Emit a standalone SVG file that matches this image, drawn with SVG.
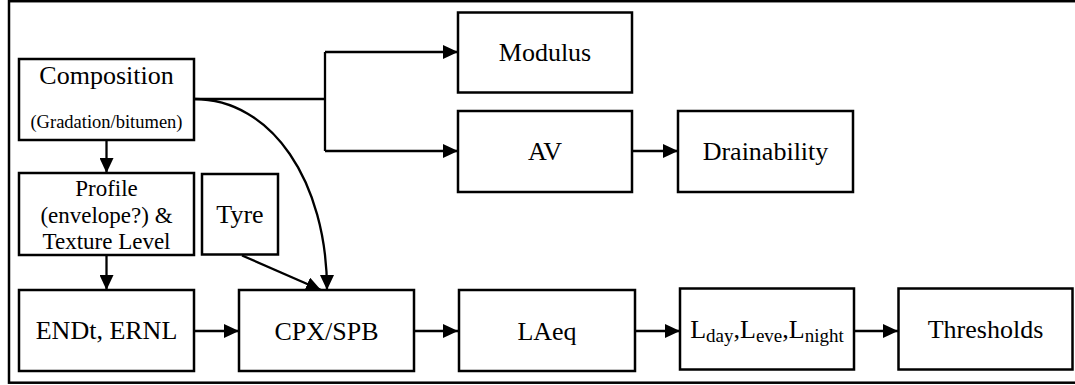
<svg xmlns="http://www.w3.org/2000/svg" width="1075" height="385" viewBox="0 0 1075 385" font-family="'Liberation Serif', 'DejaVu Serif', serif">
  <defs>
    <marker id="arr" markerUnits="userSpaceOnUse" markerWidth="16" markerHeight="14" refX="15" refY="7" orient="auto" viewBox="0 0 16 14">
      <path d="M0,0 L15,7 L0,14 z" fill="#000"/>
    </marker>
  </defs>
  <style>
    .box { fill: #fff; stroke: #000; stroke-width: 2.5; }
    .frame { fill: #fff; stroke: #000; stroke-width: 2.5; }
    .c { fill: none; stroke: #000; stroke-width: 2.3; }
    text { font-family: 'Liberation Serif', 'DejaVu Serif', serif; fill: #000; text-anchor: middle; }
    .big { font-size: 26px; }
    .mid { font-size: 23px; }
    .sm { font-size: 18.5px; }
    .sub { font-size: 19px; }
  </style>

  <rect class="frame" x="9" y="1.2" width="1070" height="381.5"/>

  <g id="connectors">
    <path class="c" d="M194,99 H325 M325,52 V151"/>
    <path class="c" d="M325,52 H458" marker-end="url(#arr)"/>
    <path class="c" d="M325,151 H458" marker-end="url(#arr)"/>
    <path class="c" d="M632,151 H678" marker-end="url(#arr)"/>
    <path class="c" d="M106.5,140 V173" marker-end="url(#arr)"/>
    <path class="c" d="M106.5,255 V290" marker-end="url(#arr)"/>
    <path class="c" d="M194,99 C272,99 327,182 327,290" marker-end="url(#arr)"/>
    <path class="c" d="M242,255.5 L321,290" marker-end="url(#arr)"/>
    <path class="c" d="M194,331 H239" marker-end="url(#arr)"/>
    <path class="c" d="M414,331 H458" marker-end="url(#arr)"/>
    <path class="c" d="M635,331 H680" marker-end="url(#arr)"/>
    <path class="c" d="M854,331 H898" marker-end="url(#arr)"/>
  </g>

  <g id="composition">
    <rect class="box" x="19" y="59" width="175" height="81"/>
    <text class="big" x="106.5" y="84">Composition</text>
    <text class="sm" x="106.5" y="128">(Gradation/bitumen)</text>
  </g>

  <g id="profile">
    <rect class="box" x="19" y="173" width="175" height="82"/>
    <text class="mid" x="106.5" y="196">Profile</text>
    <text class="mid" x="106.5" y="222.5">(envelope?) &amp;</text>
    <text class="mid" x="106.5" y="248.5">Texture Level</text>
  </g>

  <g id="tyre">
    <rect class="box" x="202" y="174" width="76" height="80.5"/>
    <text class="big" x="240" y="223">Tyre</text>
  </g>

  <g id="endt">
    <rect class="box" x="19" y="290" width="175" height="81"/>
    <text class="big" x="106.5" y="339">ENDt, ERNL</text>
  </g>

  <g id="cpx">
    <rect class="box" x="239" y="290" width="175" height="81"/>
    <text class="big" x="326.5" y="340">CPX/SPB</text>
  </g>

  <g id="laeq">
    <rect class="box" x="459" y="290" width="176" height="81"/>
    <text class="big" x="547" y="340">LAeq</text>
  </g>

  <g id="lden">
    <rect class="box" x="680" y="288.5" width="174" height="81"/>
    <text class="big" x="767" y="338">L<tspan class="sub" dy="3.5">day</tspan><tspan dy="-3.5">,L</tspan><tspan class="sub" dy="3.5">eve</tspan><tspan dy="-3.5">,L</tspan><tspan class="sub" dy="3.5">night</tspan></text>
  </g>

  <g id="thresholds">
    <rect class="box" x="898.5" y="288.5" width="174" height="81"/>
    <text class="big" x="985.5" y="338">Thresholds</text>
  </g>

  <g id="modulus">
    <rect class="box" x="458" y="12.5" width="174" height="80"/>
    <text class="big" x="545" y="61">Modulus</text>
  </g>

  <g id="av">
    <rect class="box" x="458" y="111" width="174" height="81"/>
    <text class="big" x="545" y="159.5">AV</text>
  </g>

  <g id="drainability">
    <rect class="box" x="678" y="111" width="175" height="81"/>
    <text class="big" x="765.5" y="160">Drainability</text>
  </g>
</svg>
